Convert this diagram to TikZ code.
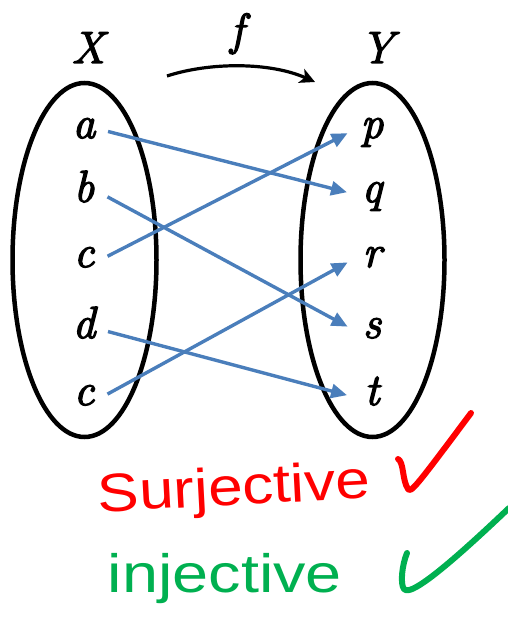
\documentclass[tikz,border=0pt]{standalone}
\usepackage{fontspec}
\newfontfamily\handfont{Liberation Sans}
\newfontfamily\elemfont{Latin Modern Roman}[FakeBold=3]
\usetikzlibrary{arrows.meta,shapes.geometric}
\definecolor{mapblue}{RGB}{74,126,187}
\definecolor{handred}{RGB}{255,0,0}
\definecolor{handgreen}{RGB}{0,176,80}
\begin{document}
\begin{tikzpicture}[x=1pt,y=-1pt,
  setoval/.style={draw, ellipse, line width=4.5pt, minimum width=144pt,
    minimum height=354pt, inner sep=0pt},
  elem/.style={font=\fontsize{45}{52}\selectfont\elemfont\itshape, text height=20pt,
    text depth=4pt, inner sep=0pt, minimum width=36pt, anchor=base},
  setname/.style={font=\fontsize{45}{52}\selectfont\elemfont\itshape, inner sep=0pt,
    anchor=base},
  mapsto/.style={draw=mapblue, line width=3.4pt,
    -{Triangle[length=16pt,width=14pt]}, shorten <=6pt, shorten >=7pt},
  hand/.style={font=\fontsize{54}{60}\selectfont\handfont, inner sep=0pt,
    anchor=base},
  tick/.style={line width=6pt, line cap=round, line join=round}]
\useasboundingbox (0,0) rectangle (507,623);

% the two sets
\node[setoval] (X) at (84.5,260) {};
\node[setoval] (Y) at (372.5,260) {};
\node[setname] (xlab) at (88,63) {X};
\node[setname] (ylab) at (377,63) {Y};
\node[setname] (flab) at (237,45) {f};

% the function arrow over the sets
\coordinate (fs) at (167,76);
\coordinate (fe) at (315,82);
\draw[line width=3.2pt, -{Stealth[length=15pt,width=15pt,inset=4pt]}]
  (fs) .. controls (210,62) and (270,62) .. (fe);

% elements of X
\node[elem] (a)  at (84,138) {a};
\node[elem] (b)  at (84,202) {b};
\node[elem] (c1) at (84,267) {c};
\node[elem] (d)  at (84,338) {d};
\node[elem] (c2) at (84,405) {c};

% elements of Y
\node[elem] (p) at (372,138) {p};
\node[elem] (q) at (372,202) {q};
\node[elem] (r) at (372,267) {r};
\node[elem] (s) at (372,338) {s};
\node[elem] (t) at (372,405) {t};

% the mapping
\draw[mapsto] (a.east)  -- (q.west);
\draw[mapsto] (b.east)  -- (s.west);
\draw[mapsto] (c1.east) -- (p.west);
\draw[mapsto] (d.east)  -- (t.west);
\draw[mapsto] (c2.east) -- (r.west);

% handwritten verdicts
\node[hand, text=handred, rotate=3, xscale=1.15] (surj) at (235,505) {Surjective};
\node[hand, text=handgreen, xscale=1.2] (inj) at (225,592) {injective};

\draw[tick, handred] (398,459) .. controls (404,462) and (402,480) .. (408,489)
  .. controls (411,493) and (415,488) .. (471,413);
\draw[tick, handgreen] (407,553) .. controls (402,565) and (400,584) .. (404,589)
  .. controls (408,594) and (425,588) .. (509,508);
\end{tikzpicture}
\end{document}
